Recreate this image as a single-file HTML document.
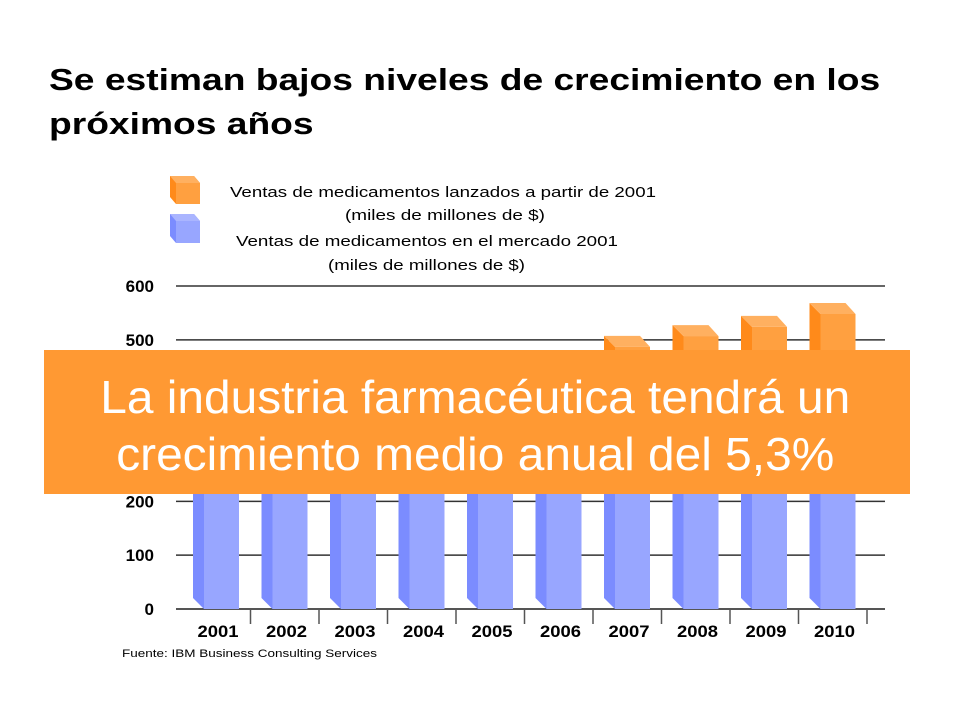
<!DOCTYPE html>
<html><head><meta charset="utf-8"><style>
body{margin:0;width:960px;height:720px;background:#fff;overflow:hidden;font-family:"Liberation Sans",sans-serif;position:relative}
.t{position:absolute}
</style></head><body>
<div class="t" style="left:49px;top:58px;font-size:31px;font-weight:bold;line-height:44px;color:#000;white-space:nowrap;transform:scaleX(1.2);transform-origin:0 0">Se estiman bajos niveles de crecimiento en los<br>próximos años</div>
<svg width="960" height="720" style="position:absolute;left:0;top:0">
<g id="legend">
 <g>
  <polygon points="170,176 194,176 200,183 200,204 176,204 170,197" fill="#ff8a1a"/>
  <polygon points="176,183 200,183 200,204 176,204" fill="#ffa040"/>
  <polygon points="170,176 194,176 200,183 176,183" fill="#ffb060"/>
  <text x="230" y="197" font-size="15" textLength="426" lengthAdjust="spacingAndGlyphs" font-family="Liberation Sans,sans-serif">Ventas de medicamentos lanzados a partir de 2001</text>
  <text x="345" y="220" font-size="15" textLength="200" lengthAdjust="spacingAndGlyphs" font-family="Liberation Sans,sans-serif">(miles de millones de $)</text>
 </g>
 <g>
  <polygon points="170,214 194,214 200,221 200,243 176,243 170,236" fill="#7b8cff"/>
  <polygon points="176,221 200,221 200,243 176,243" fill="#98a6ff"/>
  <polygon points="170,214 194,214 200,221 176,221" fill="#aab5ff"/>
  <text x="236" y="246" font-size="15" textLength="382" lengthAdjust="spacingAndGlyphs" font-family="Liberation Sans,sans-serif">Ventas de medicamentos en el mercado 2001</text>
  <text x="328" y="270" font-size="15" textLength="197" lengthAdjust="spacingAndGlyphs" font-family="Liberation Sans,sans-serif">(miles de millones de $)</text>
 </g>
</g>
<g id="grid"></g><g id="bars"></g><g id="xaxis"></g>
<text x="122" y="657" font-size="11" textLength="255" lengthAdjust="spacingAndGlyphs" font-family="Liberation Sans,sans-serif">Fuente: IBM Business Consulting Services</text>
</svg>
<div class="t" style="left:44px;top:350px;width:866px;height:144px;background:#ff9933;"></div>
<div class="t" style="left:44px;top:369px;width:866px;color:#fff;font-size:46px;line-height:57px;text-align:center;transform:scaleX(1.04);transform-origin:477px 0">La industria farmacéutica tendrá un<br>crecimiento medio anual del 5,3%</div>
<script>
const categories=["2001","2002","2003","2004","2005","2006","2007","2008","2009","2010"];
const existingSales=[380,375,372,370,368,365,362,360,358,355];
const newSales=[15,35,48,60,72,87,125,147,166,193];
const yTicks=[0,100,200,300,400,500,600];
const NS="http://www.w3.org/2000/svg";
const y0=609,pxPer=(609-286)/600;
function y(v){return y0-v*pxPer;}
function xBand(i){return 182+i*68.5;}
function mk(tag,attrs,parent){const e=document.createElementNS(NS,tag);for(const k in attrs)e.setAttribute(k,attrs[k]);parent.appendChild(e);return e;}
const grid=document.getElementById('grid'),bars=document.getElementById('bars'),xa=document.getElementById('xaxis');
yTicks.forEach(t=>{
 const l=mk('line',{x1:176,x2:885,y1:y(t),y2:y(t),stroke:t===0?'#555':'#333','stroke-width':t===0?2:1.5},grid);
 
 
 const tx=mk('text',{x:154,y:y(t)+6,'text-anchor':'end','font-size':17,'font-weight':'bold','font-family':'Liberation Sans,sans-serif'},grid);
 tx.textContent=t;
 
 
});
function box(x,yb,yt,front,side,top,name){
 const g=mk('g',{},bars);
 
 
 const fl=x+11,fr=x+46;
 mk('polygon',{points:`${x},${yt-11} ${fl},${yt} ${fl},${yb} ${x},${yb-11}`,fill:side},g);
 mk('rect',{x:fl,y:yt,width:35,height:yb-yt,fill:front},g);
 mk('polygon',{points:`${x},${yt-11} ${x+36},${yt-11} ${fr},${yt} ${fl},${yt}`,fill:top},g);
}
categories.forEach((c,i)=>{
 const x=xBand(i)+11;
 const b=existingSales[i],n=newSales[i];
 box(x,y(0),y(b),'#98a6ff','#7b8cff','#aab5ff','bar-existing-'+c);
 box(x,y(b),y(b+n),'#ffa040','#ff8a1a','#ffb060','bar-new-'+c);
 const tk=mk('line',{x1:xBand(i)+68.5,x2:xBand(i)+68.5,y1:610,y2:624,stroke:'#555','stroke-width':1.5},xa);
 
 
 const tx=mk('text',{x:xBand(i)+36,y:637,'text-anchor':'middle','font-size':17,'font-weight':'bold',textLength:41,lengthAdjust:'spacingAndGlyphs','font-family':'Liberation Sans,sans-serif'},xa);
 tx.textContent=c;
 
 
});
</script>
</body></html>
